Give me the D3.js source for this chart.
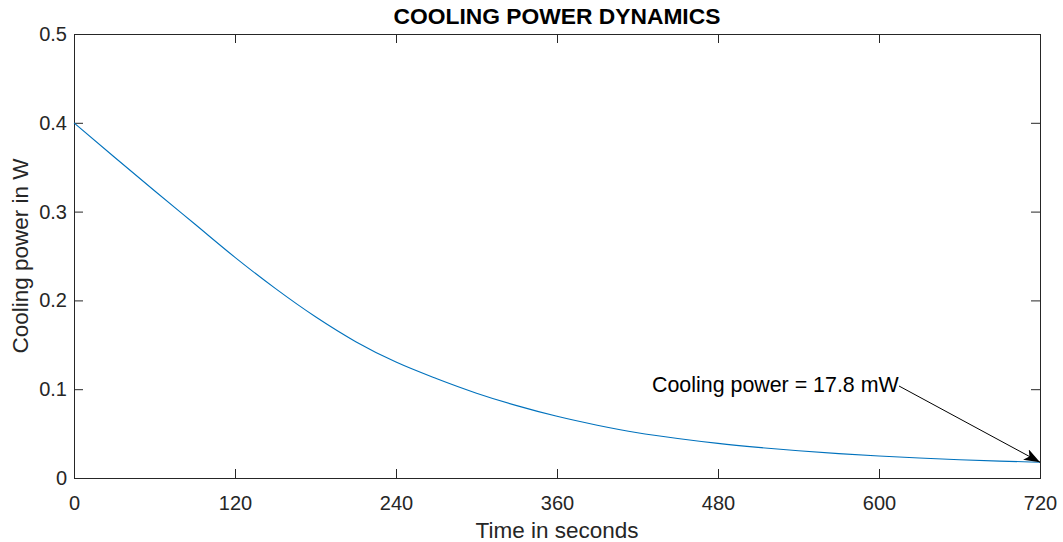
<!DOCTYPE html>
<html>
<head>
<meta charset="utf-8">
<script src="https://cdn.jsdelivr.net/npm/d3@7"></script>
<style>
  html, body { margin: 0; padding: 0; background: #fff; }
  svg { display: block; font-family: "Liberation Sans", Arial, Helvetica, sans-serif; }
</style>
</head>
<body>
<svg id="chart" width="1063" height="542"></svg>
<script>
// Cooling power over time (seconds -> watts)
const timeSeconds = [0, 30, 60, 90, 120, 150, 180, 210, 240, 270, 300, 330, 360, 390, 420, 450, 480, 510, 540, 570, 600, 630, 660, 690, 720];
const coolingPowerW = [0.400, 0.3615, 0.3235, 0.286, 0.2485, 0.2135, 0.1815, 0.1535, 0.1305, 0.112, 0.0955, 0.0815, 0.0695, 0.0595, 0.051, 0.0445, 0.039, 0.0345, 0.0307, 0.0275, 0.0248, 0.0225, 0.0206, 0.019, 0.0178];
const xTicks = [0, 120, 240, 360, 480, 600, 720];
const yTicks = [0, 0.1, 0.2, 0.3, 0.4, 0.5];
const finalPowerMilliW = 17.8;

const margin = { left: 74, top: 34, right: 1063 - 1040, bottom: 542 - 478 };
const width = 1063, height = 542;
const svg = d3.select("#chart");
const axisColor = "#262626";

const x = d3.scaleLinear().domain([0, 720]).range([margin.left, width - margin.right]);
const y = d3.scaleLinear().domain([0, 0.5]).range([height - margin.bottom, margin.top]);

const tickLen = 9;

// axes: ticks pointing inward on all four sides
const fmtY = d => d === 0 ? "0" : d3.format(".1f")(d);
svg.append("g")
  .attr("transform", `translate(0,${y(0)})`)
  .call(d3.axisBottom(x).tickValues(xTicks).tickSize(-tickLen).tickPadding(18).tickSizeOuter(0))
  .call(g => g.select(".domain").attr("stroke", axisColor))
  .call(g => g.selectAll(".tick line").attr("stroke", axisColor))
  .call(g => g.selectAll("text").attr("fill", axisColor).attr("font-size", 20));

svg.append("g")
  .attr("transform", `translate(0,${y(0.5)})`)
  .call(d3.axisTop(x).tickValues(xTicks).tickSize(-tickLen).tickFormat("").tickSizeOuter(0))
  .call(g => g.select(".domain").attr("stroke", axisColor))
  .call(g => g.selectAll(".tick line").attr("stroke", axisColor));

svg.append("g")
  .attr("transform", `translate(${x(0)},0)`)
  .call(d3.axisLeft(y).tickValues(yTicks).tickFormat(fmtY).tickSize(-tickLen).tickPadding(7).tickSizeOuter(0))
  .call(g => g.select(".domain").attr("stroke", axisColor))
  .call(g => g.selectAll(".tick line").attr("stroke", axisColor))
  .call(g => g.selectAll("text").attr("fill", axisColor).attr("font-size", 20));

svg.append("g")
  .attr("transform", `translate(${x(720)},0)`)
  .call(d3.axisRight(y).tickValues(yTicks).tickSize(-tickLen).tickFormat("").tickSizeOuter(0))
  .call(g => g.select(".domain").attr("stroke", axisColor))
  .call(g => g.selectAll(".tick line").attr("stroke", axisColor));

svg.selectAll(".domain").attr("shape-rendering", "crispEdges");

// curve
const data = timeSeconds.map((t, i) => ({ t, p: coolingPowerW[i] }));
svg.append("path")
  .datum(data)
  .attr("fill", "none")
  .attr("stroke", "#0072BD")
  .attr("stroke-width", 1.1)
  .attr("d", d3.line().x(d => x(d.t)).y(d => y(d.p)).curve(d3.curveMonotoneX));

// title and axis labels
svg.append("text")
  .attr("x", (x(0) + x(720)) / 2).attr("y", 24)
  .attr("text-anchor", "middle").attr("font-weight", "bold").attr("font-size", 22.8)
  .attr("fill", "#000")
  .text("COOLING POWER DYNAMICS");

svg.append("text")
  .attr("x", (x(0) + x(720)) / 2).attr("y", 538)
  .attr("text-anchor", "middle").attr("font-size", 22.5).attr("fill", axisColor)
  .text("Time in seconds");

svg.append("text")
  .attr("transform", `translate(28,${(y(0) + y(0.5)) / 2}) rotate(-90)`)
  .attr("text-anchor", "middle").attr("font-size", 22.5).attr("fill", axisColor)
  .text("Cooling power in W");

// annotation arrow to the final value
const defs = svg.append("defs");
defs.append("marker")
  .attr("id", "arrowhead").attr("viewBox", "0 0 16 12")
  .attr("refX", 16).attr("refY", 6)
  .attr("markerWidth", 16).attr("markerHeight", 12)
  .attr("markerUnits", "userSpaceOnUse").attr("orient", "auto")
  .append("path").attr("d", "M0,0 L16,6 L0,12 L4,6 Z").attr("fill", "#000");

const endT = 720, endP = finalPowerMilliW / 1000;
const labelX = 652, labelY = 392;
svg.append("text")
  .attr("x", labelX).attr("y", labelY)
  .attr("font-size", 21.4).attr("fill", "#000")
  .text(`Cooling power = ${finalPowerMilliW} mW`);

svg.append("line")
  .attr("x1", 899).attr("y1", 386)
  .attr("x2", x(endT)).attr("y2", y(endP))
  .attr("stroke", "#000").attr("stroke-width", 1)
  .attr("marker-end", "url(#arrowhead)");
</script>
</body>
</html>
